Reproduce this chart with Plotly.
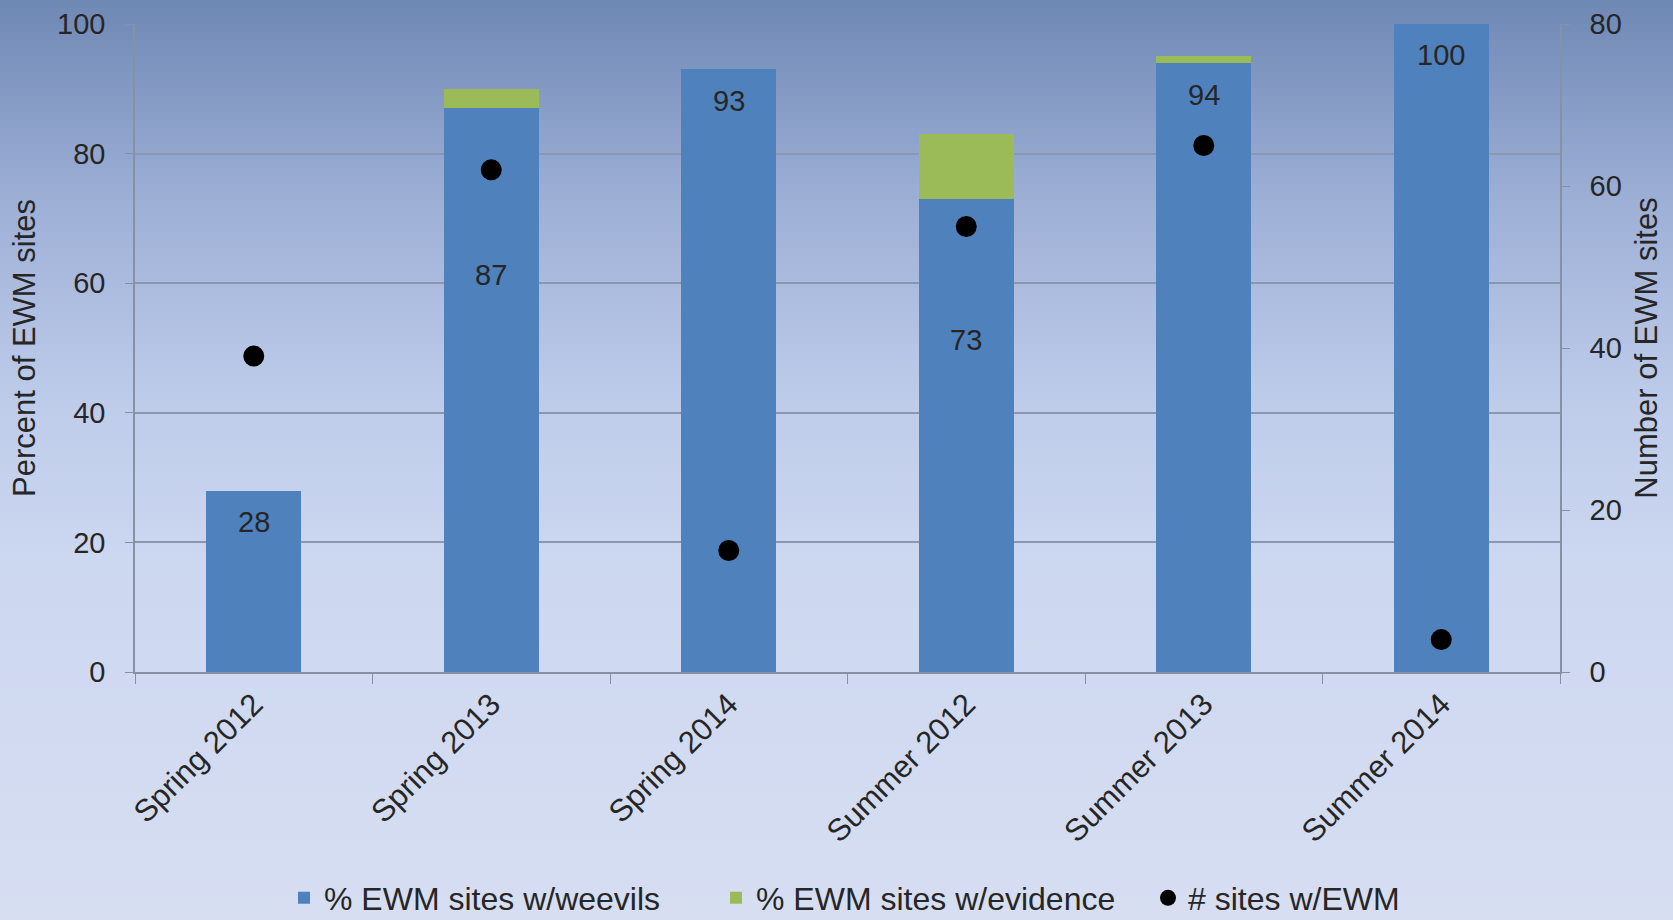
import plotly.graph_objects as go

categories = ["Spring 2012", "Spring 2013", "Spring 2014", "Summer 2012", "Summer 2013", "Summer 2014"]
pct_weevils = [28, 87, 93, 73, 94, 100]
pct_evidence = [0, 3, 0, 10, 1, 0]
num_sites = [39, 62, 15, 55, 65, 4]
label_pos = [23.2, 61.3, 88.1, 51.2, 89.1, 95.2]

FONT = "Liberation Sans, Arial, sans-serif"
TXT = "#262626"
W, H = 1673, 920
ML, MR, MT, MB = 135, 113, 24, 248
PH = H - MT - MB
PW = W - ML - MR

fig = go.Figure()
fig.add_trace(go.Bar(x=categories, y=pct_weevils, name="% EWM sites w/weevils",
                     marker=dict(color="#4f81bd", line=dict(width=0))))
fig.add_trace(go.Bar(x=categories, y=pct_evidence, name="% EWM sites w/evidence",
                     marker=dict(color="#9bbb59", line=dict(width=0))))
fig.add_trace(go.Scatter(x=categories, y=num_sites, name="# sites w/EWM", yaxis="y2",
                         mode="markers", marker=dict(color="black", size=21)))

for c, v, p in zip(categories, pct_weevils, label_pos):
    fig.add_annotation(x=c, y=p, text=str(v), showarrow=False, xref="x", yref="y",
                       font=dict(size=29, color=TXT, family=FONT))

# background gradient
stops = [(0, (110, 136, 180)), (200, (158, 175, 214)), (400, (190, 204, 234)),
         (560, (204, 215, 240)), (920, (215, 222, 242))]

def col(p):
    for (p0, c0), (p1, c1) in zip(stops[:-1], stops[1:]):
        if p0 <= p <= p1:
            t = (p - p0) / (p1 - p0)
            return "rgb(%d,%d,%d)" % tuple(round(a + (b - a) * t) for a, b in zip(c0, c1))
    return "rgb(%d,%d,%d)" % stops[-1][1]

shapes = []
step = 8
for p in range(0, H, step):
    y_top = (H - MB - p) / PH
    y_bot = (H - MB - (p + step)) / PH
    shapes.append(dict(type="rect", xref="paper", yref="paper",
                       x0=-ML / PW - 0.01, x1=1 + MR / PW + 0.01, y0=y_bot - 0.001, y1=y_top,
                       fillcolor=col(p + step / 2), line=dict(width=0), layer="below"))

axis_col = "#8791a6"
fig.update_layout(
    width=W, height=H, autosize=False,
    margin=dict(l=ML, r=MR, t=MT, b=MB, autoexpand=False),
    barmode="stack", bargap=0.6,
    paper_bgcolor="rgb(215,222,242)", plot_bgcolor="rgba(0,0,0,0)",
    shapes=shapes,
    font=dict(family=FONT, color=TXT, size=28),
    showlegend=True,
    legend=dict(orientation="h", x=(284 - ML) / PW, xanchor="left", yref="container",
                y=1 - 898 / H, yanchor="middle", entrywidth=387, entrywidthmode="pixels",
                font=dict(size=32, color=TXT), bgcolor="rgba(0,0,0,0)", traceorder="normal"),
    xaxis=dict(showline=True, linecolor=axis_col, linewidth=1.5, ticks="outside",
               tickson="boundaries", ticklen=10, tickcolor=axis_col, tickangle=-45,
               tickfont=dict(size=31, color=TXT), showgrid=False),
    yaxis=dict(range=[0, 100], dtick=20, showline=True, linecolor=axis_col, linewidth=1.5,
               ticks="outside", ticklen=8, tickcolor=axis_col,
               gridcolor="#8a97ae", gridwidth=1.5, zeroline=False,
               tickfont=dict(size=29, color=TXT), ticklabelstandoff=14,
               title=dict(text="Percent of EWM sites", font=dict(size=31, color=TXT), standoff=12)),
    yaxis2=dict(range=[0, 80], dtick=20, overlaying="y", side="right", showline=True,
                linecolor=axis_col, linewidth=1.5, ticks="outside", ticklen=8, tickcolor=axis_col,
                showgrid=False, zeroline=False, tickfont=dict(size=29, color=TXT),
                ticklabelstandoff=14,
                title=dict(text="Number of EWM sites", font=dict(size=31, color=TXT), standoff=14)),
)

fig.write_html("out.html")
